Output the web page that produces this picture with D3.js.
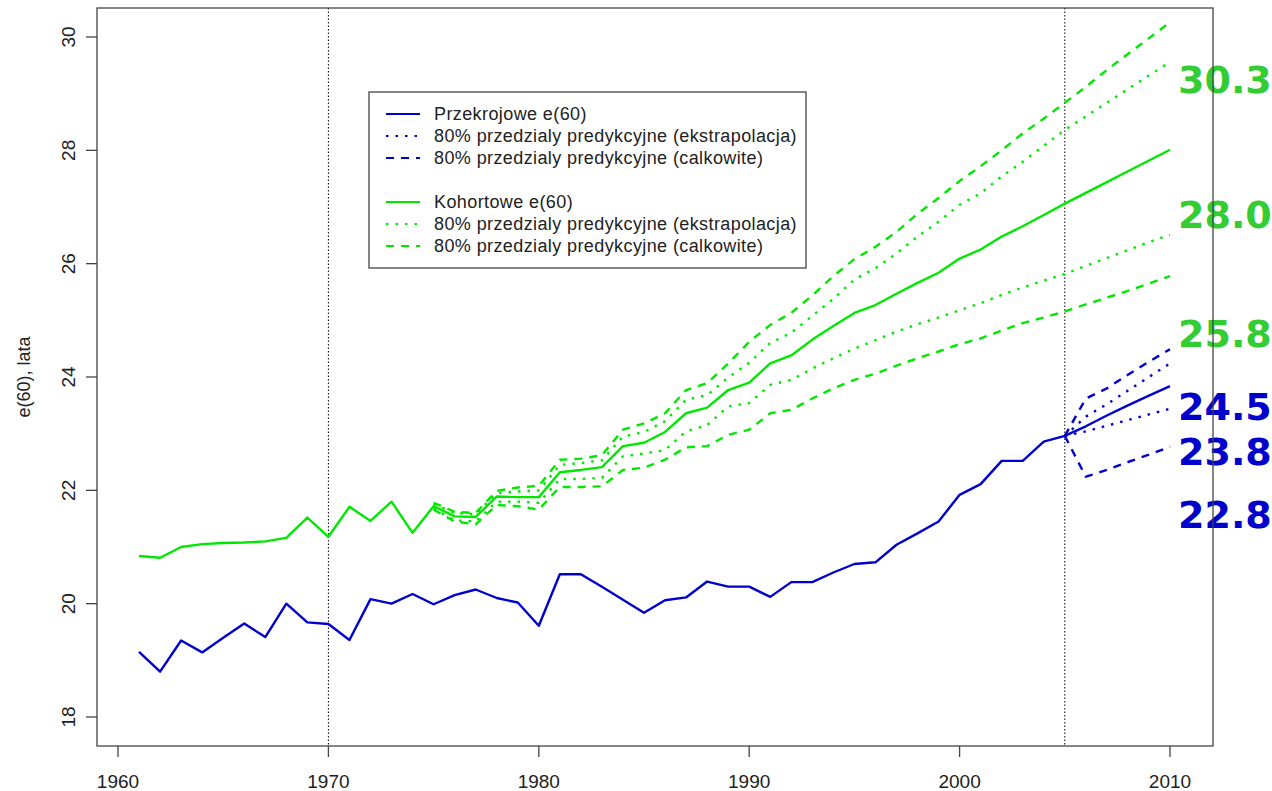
<!DOCTYPE html>
<html>
<head>
<meta charset="utf-8">
<title>e(60)</title>
<style>
  body { margin: 0; background: #fff; }
  svg { display: block; }
  .tick-label { font-family: "Liberation Sans", Arial, sans-serif; font-size: 19px; fill: #222; }
  .legend-text { font-family: "Liberation Sans", Arial, sans-serif; font-size: 18px; letter-spacing: 0.4px; fill: #222; }
  .end-label { font-family: "DejaVu Sans", sans-serif; font-weight: bold; font-size: 38px; }
</style>
</head>
<body>
<svg width="1272" height="791"></svg>
<script src="https://cdnjs.cloudflare.com/ajax/libs/d3/7.8.5/d3.min.js"></script>
<script>
// years
var years = d3.range(1961, 2011);
var bandYears = d3.range(1975, 2011);
var blueBandYears = d3.range(2005, 2011);

// Przekrojowe e(60), 1961-2010
var przekrojowe = [19.15, 18.80, 19.35, 19.14, 19.40, 19.65, 19.41, 20.00, 19.67, 19.64,
  19.36, 20.08, 20.00, 20.17, 19.99, 20.15, 20.25, 20.10, 20.02, 19.61,
  20.52, 20.52, 20.30, 20.07, 19.84, 20.06, 20.11, 20.39, 20.30, 20.30,
  20.12, 20.38, 20.38, 20.55, 20.70, 20.73, 21.04, 21.24, 21.45, 21.92,
  22.11, 22.52, 22.52, 22.86, 22.96, 23.13, 23.32, 23.50, 23.67, 23.84];

// przedzialy 2005-2010
var przekExtHi = [22.96, 23.30, 23.52, 23.76, 24.00, 24.24];
var przekExtLo = [22.96, 23.04, 23.14, 23.24, 23.34, 23.44];
var przekTotHi = [22.96, 23.62, 23.80, 24.04, 24.27, 24.49];
var przekTotLo = [22.96, 22.24, 22.36, 22.50, 22.63, 22.77];

// Kohortowe e(60), 1961-2010
var kohortowe = [20.84, 20.81, 21.00, 21.05, 21.07, 21.08, 21.10, 21.16, 21.52, 21.18,
  21.71, 21.46, 21.80, 21.25, 21.72, 21.54, 21.53, 21.89, 21.88, 21.88,
  22.32, 22.36, 22.41, 22.78, 22.84, 23.03, 23.36, 23.46, 23.77, 23.90,
  24.24, 24.38, 24.66, 24.90, 25.13, 25.27, 25.47, 25.66, 25.84, 26.09,
  26.25, 26.48, 26.66, 26.86, 27.06, 27.25, 27.44, 27.63, 27.82, 28.01];

// przedzialy 1975-2010
var kohExtHi = [21.76, 21.60, 21.58, 21.95, 21.98, 22.00, 22.45, 22.48, 22.53, 22.95,
  23.03, 23.22, 23.60, 23.68, 23.99, 24.25, 24.60, 24.78, 25.08, 25.38,
  25.72, 25.92, 26.18, 26.48, 26.74, 27.04, 27.24, 27.54, 27.80, 28.08,
  28.36, 28.60, 28.84, 29.08, 29.32, 29.56];
var kohExtLo = [21.68, 21.47, 21.45, 21.80, 21.80, 21.78, 22.20, 22.20, 22.22, 22.60,
  22.65, 22.71, 23.04, 23.15, 23.48, 23.54, 23.86, 23.95, 24.15, 24.33,
  24.50, 24.65, 24.80, 24.93, 25.05, 25.18, 25.30, 25.45, 25.58, 25.70,
  25.82, 25.96, 26.10, 26.24, 26.38, 26.51];
var kohTotHi = [21.78, 21.62, 21.60, 21.99, 22.05, 22.08, 22.54, 22.56, 22.62, 23.07,
  23.18, 23.36, 23.77, 23.89, 24.24, 24.62, 24.92, 25.13, 25.44, 25.78,
  26.08, 26.30, 26.56, 26.88, 27.16, 27.46, 27.72, 28.00, 28.30, 28.56,
  28.84, 29.12, 29.42, 29.70, 29.98, 30.26];
var kohTotLo = [21.66, 21.45, 21.40, 21.74, 21.72, 21.66, 22.06, 22.06, 22.07, 22.36,
  22.40, 22.54, 22.76, 22.78, 22.98, 23.07, 23.36, 23.42, 23.62, 23.80,
  23.95, 24.06, 24.20, 24.33, 24.45, 24.58, 24.68, 24.82, 24.95, 25.05,
  25.16, 25.28, 25.40, 25.52, 25.65, 25.78];

var xTicks = [1960, 1970, 1980, 1990, 2000, 2010];
var yTicks = [18, 20, 22, 24, 26, 28, 30];
var vLines = [1970, 2005];

// etykiety przy koncu (tekst, y)
var endLabels = [
  {text: "30.3", y: 29.01, grp: "k"},
  {text: "28.0", y: 26.63, grp: "k"},
  {text: "25.8", y: 24.53, grp: "k"},
  {text: "24.5", y: 23.24, grp: "p"},
  {text: "23.8", y: 22.45, grp: "p"},
  {text: "22.8", y: 21.34, grp: "p"}
];

var legendItems = [
  {text: "Przekrojowe e(60)", grp: "p", lty: "solid"},
  {text: "80% przedzialy predykcyjne (ekstrapolacja)", grp: "p", lty: "dot"},
  {text: "80% przedzialy predykcyjne (calkowite)", grp: "p", lty: "dash"},
  null,
  {text: "Kohortowe e(60)", grp: "k", lty: "solid"},
  {text: "80% przedzialy predykcyjne (ekstrapolacja)", grp: "k", lty: "dot"},
  {text: "80% przedzialy predykcyjne (calkowite)", grp: "k", lty: "dash"}
];

var lineColor = {p: "#0000cd", k: "#00e800"};
var labelColor = {p: "#0000cd", k: "#33cc33"};
var dashes = {solid: null, dot: "2.5,7", dash: "8,7"};

var svg = d3.select("svg");
var box = {left: 97, right: 1213, top: 8, bottom: 746};

var x = d3.scaleLinear().domain([1960, 2010]).range([118, 1170]);
var y = d3.scaleLinear().domain([18, 30]).range([717, 37]);

// pionowe linie
svg.selectAll(".vline").data(vLines).enter().append("line")
    .attr("x1", function(d) { return x(d); }).attr("x2", function(d) { return x(d); })
    .attr("y1", box.top).attr("y2", box.bottom)
    .attr("stroke", "#000").attr("stroke-width", 1).attr("stroke-dasharray", "1.5,2");

var line = d3.line()
    .x(function(d) { return x(d[0]); })
    .y(function(d) { return y(d[1]); });

function draw(yrs, vals, grp, lty) {
  svg.append("path")
      .datum(d3.zip(yrs, vals))
      .attr("d", line)
      .attr("fill", "none")
      .attr("stroke", lineColor[grp])
      .attr("stroke-width", 2.4)
      .attr("stroke-linejoin", "round")
      .attr("stroke-dasharray", dashes[lty]);
}

draw(bandYears, kohTotHi, "k", "dash");
draw(bandYears, kohTotLo, "k", "dash");
draw(bandYears, kohExtHi, "k", "dot");
draw(bandYears, kohExtLo, "k", "dot");
draw(years, kohortowe, "k", "solid");

draw(blueBandYears, przekTotHi, "p", "dash");
draw(blueBandYears, przekTotLo, "p", "dash");
draw(blueBandYears, przekExtHi, "p", "dot");
draw(blueBandYears, przekExtLo, "p", "dot");
draw(years, przekrojowe, "p", "solid");

// etykiety
svg.selectAll(".end-label").data(endLabels).enter().append("text")
    .attr("class", "end-label")
    .attr("x", x(2010) + 8)
    .attr("y", function(d) { return y(d.y); })
    .attr("fill", function(d) { return labelColor[d.grp]; })
    .text(function(d) { return d.text; });

// legenda
var lg = svg.append("g");
lg.append("rect")
    .attr("x", 369).attr("y", 92).attr("width", 437).attr("height", 176)
    .attr("fill", "#fff").attr("stroke", "#333").attr("stroke-width", 1.2);
legendItems.forEach(function(d, i) {
  if (!d) return;
  var ly = 114 + i * 22;
  lg.append("line")
      .attr("x1", 386).attr("x2", 420).attr("y1", ly).attr("y2", ly)
      .attr("stroke", lineColor[d.grp]).attr("stroke-width", 2.2)
      .attr("stroke-dasharray", dashes[d.lty]);
  lg.append("text").attr("class", "legend-text")
      .attr("x", 434).attr("y", ly).attr("dy", "0.36em")
      .text(d.text);
});

// ramka
svg.append("rect")
    .attr("x", box.left).attr("y", box.top)
    .attr("width", box.right - box.left).attr("height", box.bottom - box.top)
    .attr("fill", "none").attr("stroke", "#444").attr("stroke-width", 1.3);

// osie
var xa = svg.append("g");
xa.selectAll("line").data(xTicks).enter().append("line")
    .attr("x1", function(d) { return x(d); }).attr("x2", function(d) { return x(d); })
    .attr("y1", box.bottom).attr("y2", box.bottom + 11)
    .attr("stroke", "#444").attr("stroke-width", 1.3);
xa.selectAll("text").data(xTicks).enter().append("text")
    .attr("class", "tick-label")
    .attr("x", function(d) { return x(d); }).attr("y", 788)
    .attr("text-anchor", "middle")
    .text(function(d) { return d; });

var ya = svg.append("g");
ya.selectAll("line").data(yTicks).enter().append("line")
    .attr("x1", box.left - 11).attr("x2", box.left)
    .attr("y1", function(d) { return y(d); }).attr("y2", function(d) { return y(d); })
    .attr("stroke", "#444").attr("stroke-width", 1.3);
ya.selectAll("text").data(yTicks).enter().append("text")
    .attr("class", "tick-label")
    .attr("text-anchor", "middle")
    .attr("transform", function(d) { return "translate(75," + y(d) + ") rotate(-90)"; })
    .text(function(d) { return d; });

svg.append("text")
    .attr("class", "tick-label")
    .style("font-size", "18px")
    .attr("text-anchor", "middle")
    .attr("transform", "translate(30," + ((box.top + box.bottom) / 2) + ") rotate(-90)")
    .text("e(60), lata");
</script>
</body>
</html>
